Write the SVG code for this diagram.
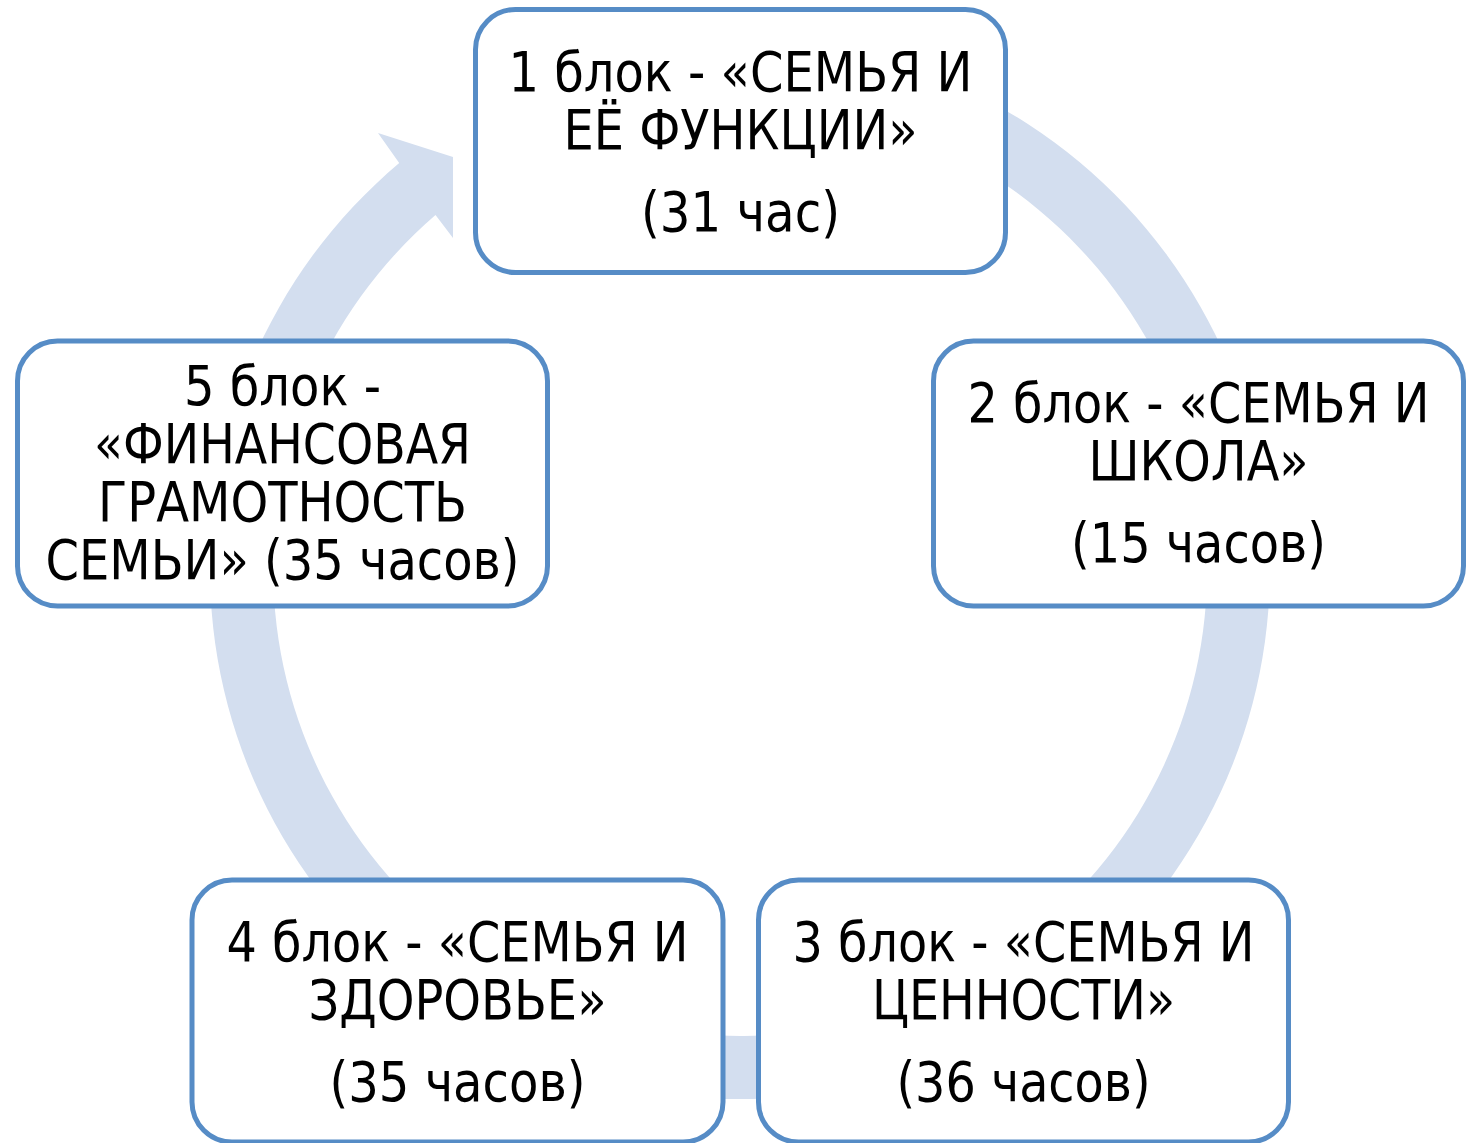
<svg xmlns="http://www.w3.org/2000/svg" width="1478" height="1143" viewBox="0 0 1478 1143">
<style>
.box{fill:#ffffff;stroke:#568cc6;stroke-width:5}
.ring{fill:#d3deef;stroke:none}
.t{font-family:'DejaVu Sans Condensed','DejaVu Sans',sans-serif;font-stretch:condensed;font-size:55px;fill:#000000;text-anchor:middle}
</style>
<rect width="1478" height="1143" fill="#ffffff"/>
<g id="connectors">
<path class="ring" d="M 666.2 44.2 A 530 530 0 1 1 399.2 163.1 L 378 133 L 453 157 L 453 238 L 435.5 215 A 467 467 0 1 0 675 106.5 Z"/>
</g>
<g id="node1">
<rect class="box" x="475.5" y="9.5" width="530" height="263" rx="40"/>
<text class="t" x="740.5" y="90.5" textLength="464" lengthAdjust="spacingAndGlyphs">1 блок - «СЕМЬЯ И</text>
<text class="t" x="740.5" y="148.5" textLength="354" lengthAdjust="spacingAndGlyphs">ЕЁ ФУНКЦИИ»</text>
<text class="t" x="740.5" y="230.5" textLength="199" lengthAdjust="spacingAndGlyphs">(31 час)</text>
</g>
<g id="node2">
<rect class="box" x="933.5" y="341" width="530" height="265" rx="40"/>
<text class="t" x="1198.5" y="422" textLength="462" lengthAdjust="spacingAndGlyphs">2 блок - «СЕМЬЯ И</text>
<text class="t" x="1198.5" y="480" textLength="220" lengthAdjust="spacingAndGlyphs">ШКОЛА»</text>
<text class="t" x="1198.5" y="562" textLength="255" lengthAdjust="spacingAndGlyphs">(15 часов)</text>
</g>
<g id="node3">
<rect class="box" x="758.5" y="880" width="530" height="262" rx="40"/>
<text class="t" x="1023.5" y="961" textLength="462" lengthAdjust="spacingAndGlyphs">3 блок - «СЕМЬЯ И</text>
<text class="t" x="1023.5" y="1019" textLength="303" lengthAdjust="spacingAndGlyphs">ЦЕННОСТИ»</text>
<text class="t" x="1023.5" y="1101" textLength="254" lengthAdjust="spacingAndGlyphs">(36 часов)</text>
</g>
<g id="node4">
<rect class="box" x="192" y="880" width="531" height="262" rx="40"/>
<text class="t" x="457.5" y="961" textLength="462" lengthAdjust="spacingAndGlyphs">4 блок - «СЕМЬЯ И</text>
<text class="t" x="457.5" y="1019" textLength="298" lengthAdjust="spacingAndGlyphs">ЗДОРОВЬЕ»</text>
<text class="t" x="457.5" y="1101" textLength="256" lengthAdjust="spacingAndGlyphs">(35 часов)</text>
</g>
<g id="node5">
<rect class="box" x="17.5" y="341" width="530" height="265" rx="40"/>
<text class="t" x="282.5" y="405" textLength="197" lengthAdjust="spacingAndGlyphs">5 блок -</text>
<text class="t" x="282.5" y="463" textLength="377" lengthAdjust="spacingAndGlyphs">«ФИНАНСОВАЯ</text>
<text class="t" x="282.5" y="521" textLength="369" lengthAdjust="spacingAndGlyphs">ГРАМОТНОСТЬ</text>
<text class="t" x="282.5" y="579" textLength="474" lengthAdjust="spacingAndGlyphs">СЕМЬИ» (35 часов)</text>
</g>
</svg>
